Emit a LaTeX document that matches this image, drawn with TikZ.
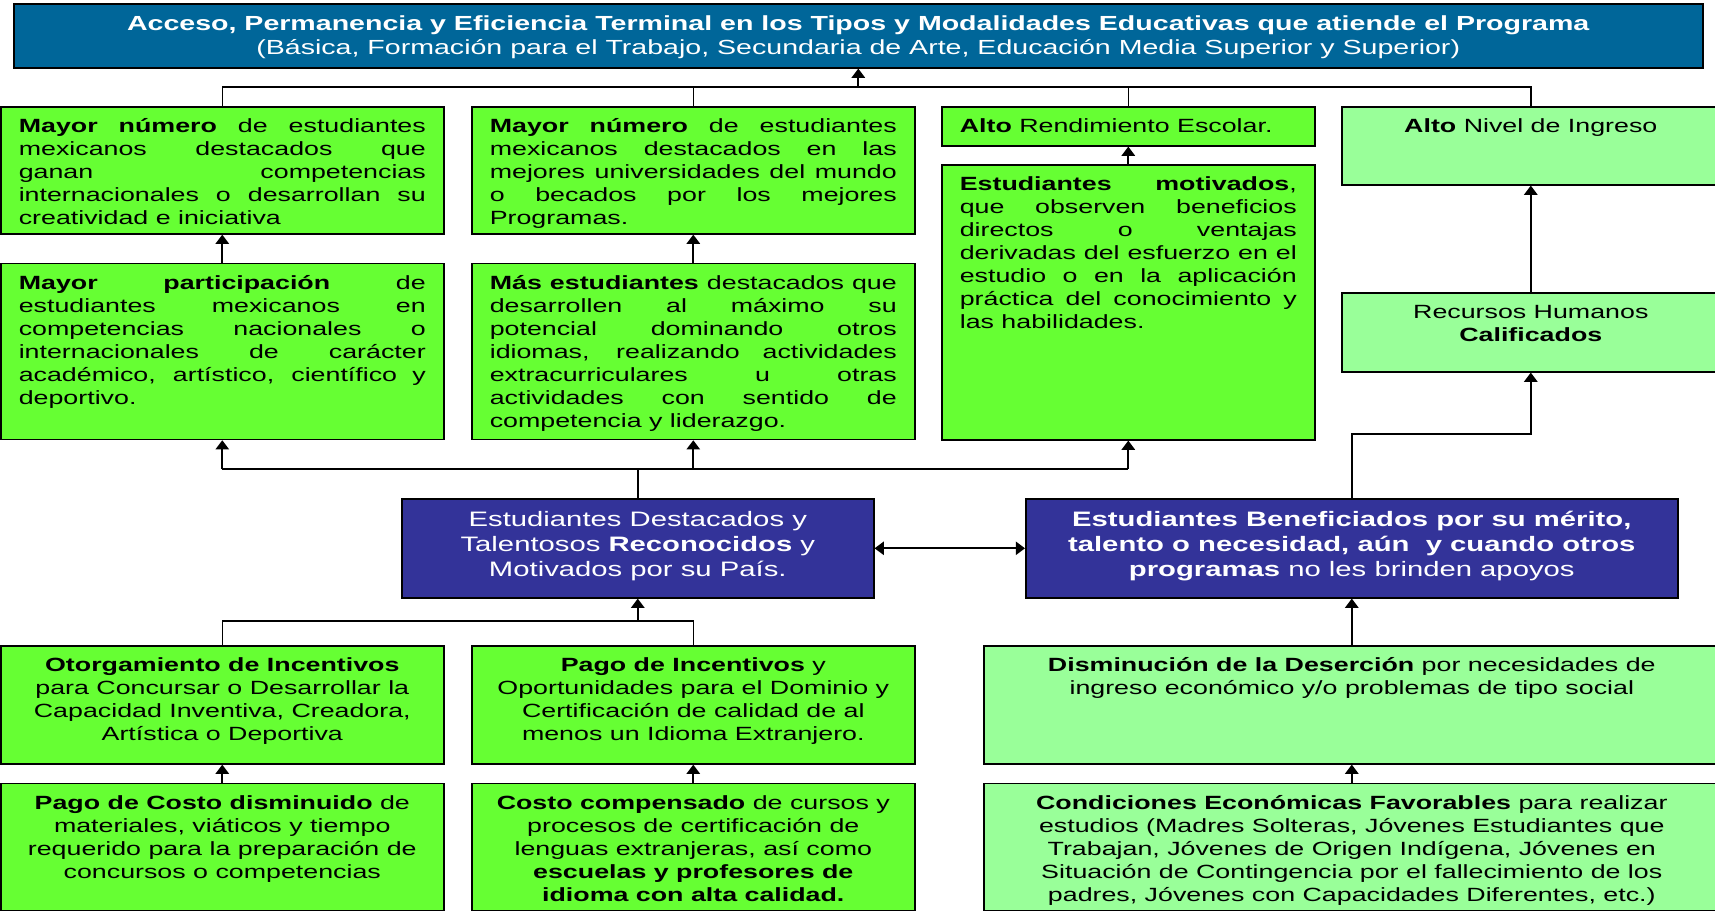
\documentclass[tikz,border=0pt]{standalone}
\usepackage{fontspec}
\setmainfont{Liberation Sans}[FakeStretch=1.4]
\usetikzlibrary{positioning}
\usetikzlibrary{arrows.meta}

\definecolor{titleblue}{RGB}{0,102,153}
\definecolor{leafgreen}{RGB}{102,255,51}
\definecolor{palegreen}{RGB}{153,255,153}
\definecolor{navy}{RGB}{51,51,153}

\newcommand{\boxfont}{\fontsize{9.57pt}{11.5pt}\selectfont}
\newcommand{\navyfont}{\fontsize{10.45pt}{12.5pt}\selectfont}
\newcommand{\titlefont}{\fontsize{10.2pt}{12pt}\selectfont}
%% text block of fixed size, set from the top
\newcommand{\intext}[4]{\vbox to #2{\hsize=#1\relax\parindent=0pt%
  \tolerance=10000\hbadness=10000\hyphenpenalty=10000\exhyphenpenalty=10000%
  #3\noindent\strut#4\par\vss}}

\begin{document}
\begin{tikzpicture}
[x=0.5pt,y=-0.5pt,>={Triangle[length=4.6pt,width=6.6pt]},%
  box/.style={draw=black,line width=0.8pt,anchor=north west,inner xsep=9pt,inner ysep=5pt,font=\boxfont},
  greenbox/.style={box,fill=leafgreen},
  palebox/.style={box,fill=palegreen},
  navybox/.style={box,fill=navy,text=white,font=\navyfont},
  titlebox/.style={box,fill=titleblue,text=white,font=\titlefont},
  link/.style={line width=0.7pt},
  linkto/.style={line width=1pt,->},
  linkboth/.style={line width=0.9pt,<->}]
\useasboundingbox (0,0) rectangle (1715,912);
%% top
\node[titlebox] (top) at (13,3) {\intext{826.5pt}{22pt}{\centering}{%
  \textbf{Acceso, Permanencia y Eficiencia Terminal en los Tipos y Modalidades Educativas que atiende el Programa}\\
  (Básica, Formación para el Trabajo, Secundaria de Arte, Educación Media Superior y Superior)}};
%% upper rows
\node[greenbox] (r1c1) at (0,106) {\intext{203.5pt}{53.5pt}{}{%
  \textbf{Mayor número} de estudiantes\linebreak mexicanos destacados que\linebreak ganan competencias\linebreak
  internacionales o desarrollan su\linebreak creatividad e iniciativa}};
\node[greenbox] (r1c2) at (471,106) {\intext{203.5pt}{53.5pt}{}{%
  \textbf{Mayor número} de estudiantes\linebreak mexicanos destacados en las\linebreak mejores universidades del mundo\linebreak
  o becados por los mejores\linebreak Programas.}};
\node[greenbox] (r1c3) at (941,106) {\intext{168.5pt}{9.5pt}{\raggedright}{%
  \textbf{Alto} Rendimiento Escolar.}};
\node[palebox] (r1c4) at (1341,106) {\intext{171pt}{29pt}{\centering}{%
  \textbf{Alto} Nivel de Ingreso}};
\node[greenbox] (r2c1) [below=14pt of r1c1.south west,anchor=north west] {\intext{203.5pt}{78pt}{}{%
  \textbf{Mayor participación} de\linebreak estudiantes mexicanos en\linebreak competencias nacionales o\linebreak
  internacionales de carácter\linebreak académico, artístico, científico y\linebreak deportivo.}};
\node[greenbox] (r2c2) [below=14pt of r1c2.south west,anchor=north west] {\intext{203.5pt}{78pt}{}{%
  \textbf{Más estudiantes} destacados que\linebreak desarrollen al máximo su\linebreak potencial dominando otros\linebreak
  idiomas, realizando actividades\linebreak extracurriculares u otras\linebreak actividades con sentido de\linebreak
  competencia y liderazgo.}};
\node[greenbox] (r2c3) at (941,164) {\intext{168.5pt}{127.5pt}{}{%
  \textbf{Estudiantes motivados},\linebreak que observen beneficios\linebreak directos o ventajas\linebreak
  derivadas del esfuerzo en el\linebreak estudio o en la aplicación\linebreak práctica del conocimiento y\linebreak
  las habilidades.}};
\node[palebox] (recursos) at (1341,292) {\intext{171pt}{29.5pt}{\centering}{%
  Recursos Humanos\\\textbf{Calificados}}};
%% middle
\node[navybox] (dest) at (401,498) {\intext{218pt}{39.5pt}{\centering}{%
  Estudiantes Destacados y\\Talentosos \textbf{Reconocidos} y\\Motivados por su País.}};
\node[navybox] (benef) at (1025,498) {\intext{308pt}{39.5pt}{\centering}{%
  \textbf{Estudiantes Beneficiados por su mérito,}\\\textbf{talento o necesidad, aún\ \ y cuando otros}\\
  \textbf{programas} no les brinden apoyos}};
%% lower rows
\node[greenbox] (r3c1) at (0,645) {\intext{203.5pt}{49pt}{\centering}{%
  \textbf{Otorgamiento de Incentivos}\\para Concursar o Desarrollar la\\Capacidad Inventiva, Creadora,\\
  Artística o Deportiva}};
\node[greenbox] (r3c2) at (471,645) {\intext{203.5pt}{49pt}{\centering}{%
  \textbf{Pago de Incentivos} y\\Oportunidades para el Dominio y\\Certificación de calidad de al\\
  menos un Idioma Extranjero.}};
\node[palebox] (dismi) at (983,645) {\intext{350pt}{49pt}{\centering}{%
  \textbf{Disminución de la Deserción} por necesidades de\\ingreso económico y/o problemas de tipo social}};
\node[greenbox] (r4c1) [below=9pt of r3c1.south west,anchor=north west] {\intext{203.5pt}{53.5pt}{\centering}{%
  \textbf{Pago de Costo disminuido} de\\materiales, viáticos y tiempo\\requerido para la preparación de\\
  concursos o competencias}};
\node[greenbox] (r4c2) [below=9pt of r3c2.south west,anchor=north west] {\intext{203.5pt}{53.5pt}{\centering}{%
  \textbf{Costo compensado} de cursos y\\procesos de certificación de\\lenguas extranjeras, así como\\
  \textbf{escuelas y profesores de}\\\textbf{idioma con alta calidad.}}};
\node[palebox] (cond) [below=9pt of dismi.south west,anchor=north west] {\intext{350pt}{53.5pt}{\centering}{%
  \textbf{Condiciones Económicas Favorables} para realizar\\estudios (Madres Solteras, Jóvenes Estudiantes que\\
  Trabajan, Jóvenes de Origen Indígena, Jóvenes en\\Situación de Contingencia por el fallecimiento de los\\
  padres, Jóvenes con Capacidades Diferentes, etc.)}};
%% buses
\coordinate (topbus) at (0,87);
\coordinate (midbus) at (0,469);
\coordinate (lowbus) at (0,621);
%% connectors
\draw[link] (r1c1.north) |- (r1c4.north |- topbus) -- (r1c4.north);
\foreach \n in {r1c2,r1c3}
  \draw[link] (\n.north) -- (\n.north |- topbus);
\draw[linkto] (top.south |- topbus) -- (top.south);
\draw[linkto] (r2c1) -- (r1c1);
\draw[linkto] (r2c2) -- (r1c2);
\draw[linkto] (r2c3) -- (r1c3);
\draw[linkto] (recursos) -- (r1c4);
\draw[link] (r2c1.south |- midbus) -- (r2c3.south |- midbus);
\draw[link] (dest) -- (dest.north |- midbus);
\foreach \n in {r2c1,r2c2,r2c3}
  \draw[linkto] (\n.south |- midbus) -- (\n);
\draw[linkboth] (dest) -- (benef);
\draw[linkto] (benef.north) -- ++(0,-64) -| (recursos.south);
\draw[linkto] (dismi) -- (benef);
\draw[linkto] (cond) -- (dismi);
\draw[linkto] (dest.south |- lowbus) -- (dest);
\draw[link] (r3c1.north) |- (r3c2.north |- lowbus) -- (r3c2.north);
\draw[linkto] (r4c1) -- (r3c1);
\draw[linkto] (r4c2) -- (r3c2);
\end{tikzpicture}
\end{document}
